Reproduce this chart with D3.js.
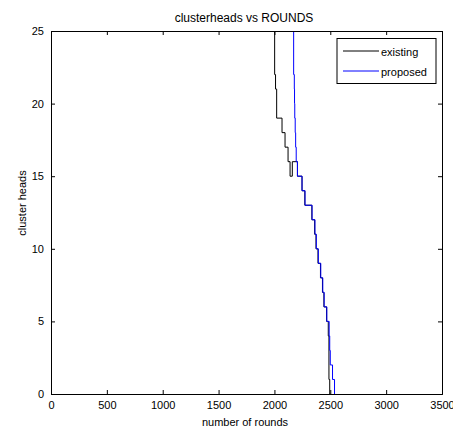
<!DOCTYPE html>
<html>
<head>
<meta charset="utf-8">
<script src="https://cdn.jsdelivr.net/npm/d3@7"></script>
<style>
  body { margin: 0; background: #fff; }
  svg text { font-family: "Liberation Sans", Arial, sans-serif; fill: #000; }
</style>
</head>
<body>
<svg id="chart"></svg>
<script>
// step data: each point = (round where the level starts, number of cluster heads)
var existingRounds = [1990, 2002, 2010, 2020, 2068, 2095, 2122, 2140, 2160, 2206, 2247, 2272, 2335, 2360, 2372, 2390, 2412, 2430, 2443, 2467, 2482, 2488, 2495, 2500];
var existingHeads  = [30,   22,   21,   19,   18,   17,   16,   15,   16,   15,   14,   13,   12,   11,   10,   9,    8,    7,    6,    5,    4,    1,    0,    0];

var proposedRounds = [2169, 2172, 2178, 2180, 2182, 2186, 2190, 2195, 2206, 2247, 2274, 2337, 2363, 2375, 2393, 2415, 2433, 2445, 2469, 2490, 2495, 2500, 2520, 2538, 2540];
var proposedHeads  = [30,   22,   21,   20,   19,   18,   17,   16,   15,   14,   13,   12,   11,   10,   9,    8,    7,    6,    5,    4,    3,    2,    1,    0,    0];

var seriesNames = ["existing", "proposed"];
var seriesColors = ["#000000", "#0000ff"];
var xTicks = [0, 500, 1000, 1500, 2000, 2500, 3000, 3500];
var yTicks = [0, 5, 10, 15, 20, 25];

var width = 453, height = 431;
var mLeft = 51, mRight = 442, mTop = 31, mBottom = 394;

var svg = d3.select("#chart").attr("width", width).attr("height", height);

var x = d3.scaleLinear().domain([0, 3500]).range([mLeft, mRight]);
var y = d3.scaleLinear().domain([0, 25]).range([mBottom, mTop]);

svg.append("clipPath").attr("id", "clip")
  .append("rect").attr("x", mLeft).attr("y", mTop).attr("width", mRight - mLeft).attr("height", mBottom - mTop);

var line = d3.line()
  .x(function(d) { return x(d[0]); })
  .y(function(d) { return y(d[1]); })
  .curve(d3.curveStepAfter);

var series = [
  d3.zip(existingRounds, existingHeads),
  d3.zip(proposedRounds, proposedHeads)
];

svg.append("g").attr("clip-path", "url(#clip)")
  .selectAll("path").data(series).enter().append("path")
  .attr("d", line)
  .attr("fill", "none")
  .attr("stroke", function(d, i) { return seriesColors[i]; })
  .attr("stroke-width", 1);

// axes with inward ticks, box on all sides
var fs = "11px";
var fmt = d3.format("d");
svg.append("g").attr("transform", "translate(0," + mBottom + ")")
  .call(d3.axisBottom(x).tickValues(xTicks).tickSize(-4).tickPadding(7).tickFormat(fmt))
  .call(function(g) { g.selectAll("text").attr("font-size", fs).attr("font-family", null); });
svg.append("g").attr("transform", "translate(0," + mTop + ")")
  .call(d3.axisTop(x).tickValues(xTicks).tickSize(-4).tickFormat(""));
svg.append("g").attr("transform", "translate(" + mLeft + ",0)")
  .call(d3.axisLeft(y).tickValues(yTicks).tickSize(-4).tickPadding(7).tickFormat(fmt))
  .call(function(g) { g.selectAll("text").attr("font-size", fs).attr("font-family", null); });
svg.append("g").attr("transform", "translate(" + mRight + ",0)")
  .call(d3.axisRight(y).tickValues(yTicks).tickSize(-4).tickFormat(""));
svg.selectAll(".domain").attr("stroke", "#000");
svg.selectAll(".tick line").attr("stroke", "#000");

svg.append("text").attr("x", 244).attr("y", 22)
  .attr("text-anchor", "middle").attr("font-size", "12px").text("clusterheads vs ROUNDS");
svg.append("text").attr("x", 245).attr("y", 426)
  .attr("text-anchor", "middle").attr("font-size", "11px").text("number of rounds");
svg.append("text").attr("transform", "translate(26,203) rotate(-90)")
  .attr("text-anchor", "middle").attr("font-size", "11px").text("cluster heads");

// legend
var lg = svg.append("g");
lg.append("rect").attr("x", 337).attr("y", 38.5).attr("width", 99).attr("height", 45)
  .attr("fill", "#fff").attr("stroke", "#000");
seriesNames.forEach(function(name, i) {
  var ly = 51 + i * 20;
  lg.append("line").attr("x1", 343).attr("x2", 379).attr("y1", ly).attr("y2", ly)
    .attr("stroke", seriesColors[i]);
  lg.append("text").attr("x", 381).attr("y", ly + 5).attr("font-size", "11px").text(name);
});
</script>
</body>
</html>
